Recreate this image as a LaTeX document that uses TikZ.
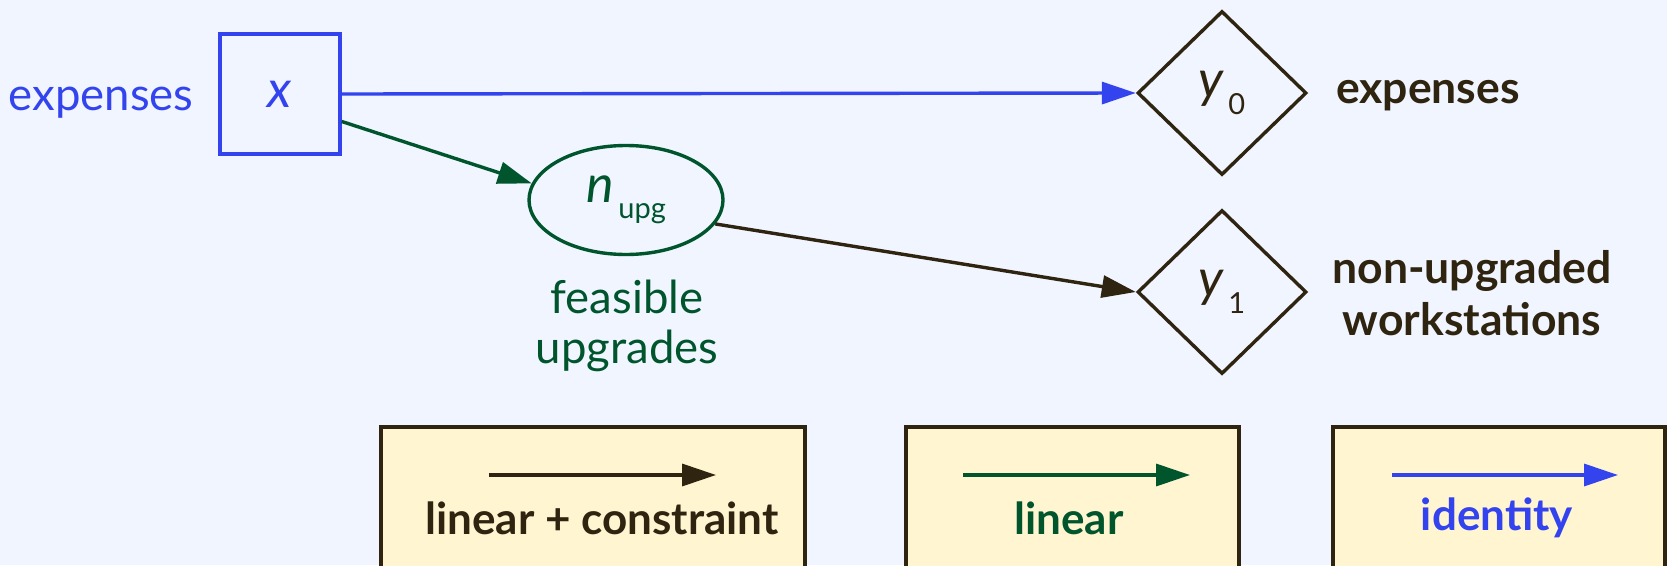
\documentclass[tikz,border=0pt]{standalone}
\usepackage{fontspec}
\setmainfont{Lato}
\usetikzlibrary{shapes.geometric,arrows.meta}
\definecolor{bgblue}{HTML}{F0F5FF}
\definecolor{idblue}{HTML}{3344EE}
\definecolor{lingreen}{HTML}{00552D}
\definecolor{darkbrown}{HTML}{2E2410}
\definecolor{legfill}{HTML}{FFF5D1}
\tikzset{
  conn/.style={line width=3.4pt,-{Triangle[length=34pt,width=22pt]}},
  inbox/.style={draw=idblue,line width=3.4pt,minimum width=120pt,minimum height=120pt,inner sep=0pt},
  hidden/.style={draw=lingreen,line width=3.4pt,ellipse,minimum width=194pt,minimum height=109pt,inner sep=0pt},
  outdia/.style={draw=darkbrown,line width=3.4pt,diamond,aspect=1.03,minimum width=169pt,minimum height=164pt,inner sep=0pt},
  lbl/.style={font=\fontsize{45.5}{50}\selectfont},
  blbl/.style={font=\bfseries\fontsize{44.5}{52}\selectfont,text=darkbrown,align=center},
  varfont/.style={font=\itshape\fontsize{52}{56}\selectfont},
  legbox/.style={draw=darkbrown,fill=legfill,line width=3.6pt,minimum height=160pt,anchor=north,inner sep=0pt},
  legtxt/.style={font=\bfseries\fontsize{44}{50}\selectfont}
}
\newcommand{\subsc}[1]{{\upshape\fontsize{29}{32}\selectfont #1}}
\begin{document}
\begin{tikzpicture}[x=1pt,y=-1pt]
\fill[bgblue] (0,0) rectangle (1667,565);
\useasboundingbox (0,0) rectangle (1667,565);
\clip (0,0) rectangle (1667,565);

% input, hidden and output nodes
\node[inbox,varfont,text=idblue] (X) at (280,94) {x};
\node[lbl,text=idblue,anchor=east] (Xl) at (197,103) {expenses};
\node[hidden,varfont,text=lingreen] (N) at (626,200) {n\raisebox{-0.6ex}{\subsc{\,upg}}};
\node[lbl,text=lingreen,align=center] (Nl) at (627,326) {feasible\\upgrades};
\node[outdia,varfont,text=darkbrown] (Y0) at (1222,93) {y\raisebox{-0.65ex}{\subsc{\,0}}};
\node[outdia,varfont,text=darkbrown] (Y1) at (1222,292) {y\raisebox{-0.65ex}{\subsc{\,1}}};
\node[blbl] (Y0l) at (1428,96) {expenses};
\node[blbl] (Y1l) at (1472,293) {non-upgraded\\workstations};

% connectors
\draw[conn,idblue] (X.east) -- (Y0.west);
\draw[conn,lingreen] (X.-24) -- (N.170);
\draw[conn,darkbrown] (N.-15) -- (Y1.west);

% legend
\node[legbox,minimum width=424pt] (L1) at (593,425) {};
\node[legbox,minimum width=333pt] (L2) at (1072.5,425) {};
\node[legbox,minimum width=332pt] (L3) at (1499,425) {};
\coordinate (a1) at (489,475); \coordinate (b1) at (716,475);
\coordinate (a2) at (963,475); \coordinate (b2) at (1190,475);
\coordinate (a3) at (1392,475); \coordinate (b3) at (1618,475);
\draw[conn,darkbrown] (a1) -- (b1);
\draw[conn,lingreen] (a2) -- (b2);
\draw[conn,idblue] (a3) -- (b3);
\node[legtxt,text=darkbrown] (T1) at (602,518) {linear + constraint};
\node[legtxt,text=lingreen] (T2) at (1069,518) {linear};
\node[legtxt,text=idblue] (T3) at (1497,518) {identity};
\end{tikzpicture}
\end{document}
